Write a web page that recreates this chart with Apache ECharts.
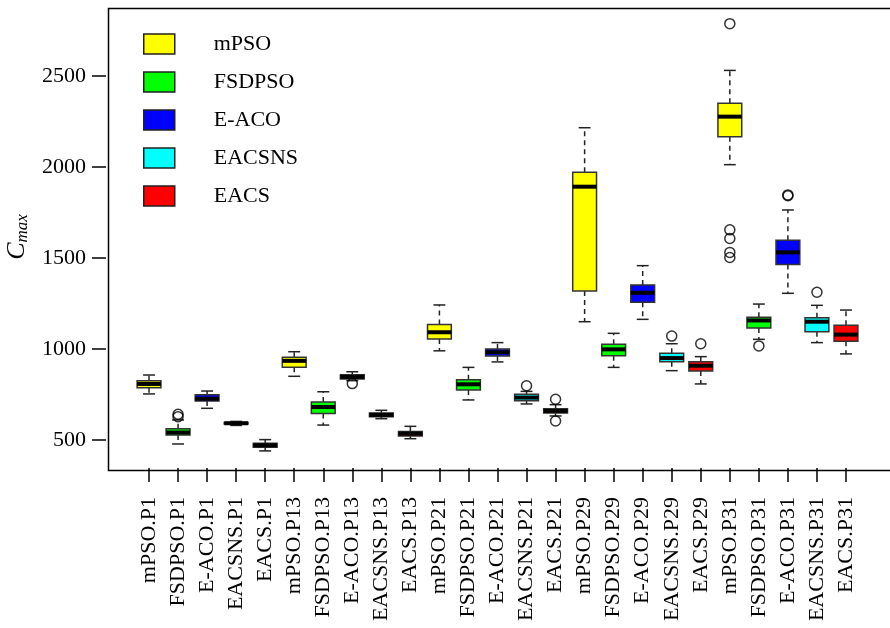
<!DOCTYPE html>
<html>
<head>
<meta charset="utf-8">
<title>Cmax boxplot</title>
<script src="https://cdn.jsdelivr.net/npm/echarts@6/dist/echarts.min.js"></script>
<style>
    html, body { margin: 0; padding: 0; background: #fff; }
    #cmax_chart { width: 890px; height: 628px; }
</style>
</head>
<body>
<div id="cmax_chart"></div>
<script>
'use strict';

var problems = ['P1', 'P13', 'P21', 'P29', 'P31'];
var algorithms = ['mPSO', 'FSDPSO', 'E-ACO', 'EACSNS', 'EACS'];
var algColors = ['#ffff00', '#00ff00', '#0000ff', '#00ffff', '#ff0000'];
var yTicks = [500, 1000, 1500, 2000, 2500];

// [min, Q1, median, Q3, max] for P1, P13, P21, P29, P31
var mPSO = [[753, 787, 808, 826, 857], [850, 900, 935, 955, 985], [990, 1055, 1092, 1135, 1242], [1150, 1319, 1892, 1971, 2216], [2013, 2167, 2277, 2350, 2531]];
var FSDPSO = [[478, 527, 541, 562, 610], [582, 645, 681, 709, 765], [720, 775, 806, 831, 899], [899, 963, 998, 1026, 1086], [1053, 1115, 1157, 1174, 1247]];
var EACO = [[674, 714, 727, 749, 769], [826, 835, 847, 858, 875], [929, 962, 982, 1000, 1035], [1163, 1257, 1309, 1352, 1458], [1306, 1465, 1531, 1597, 1764]];
var EACSNS = [[580, 588, 592, 596, 602], [617, 627, 638, 648, 663], [698, 716, 733, 751, 767], [881, 930, 950, 976, 1029], [1035, 1095, 1150, 1172, 1240]];
var EACS = [[440, 460, 471, 482, 502], [507, 522, 535, 546, 575], [632, 648, 660, 672, 694], [808, 879, 908, 930, 958], [973, 1042, 1079, 1130, 1214]];
var boxStats = [mPSO, FSDPSO, EACO, EACSNS, EACS];

// [category, value]
var outliers = [
    ['FSDPSO.P1', 641], ['FSDPSO.P1', 628],
    ['E-ACO.P13', 810],
    ['EACSNS.P21', 798],
    ['EACS.P21', 724], ['EACS.P21', 604],
    ['EACSNS.P29', 1071],
    ['EACS.P29', 1029],
    ['mPSO.P31', 2788], ['mPSO.P31', 1655], ['mPSO.P31', 1607], ['mPSO.P31', 1531], ['mPSO.P31', 1503],
    ['FSDPSO.P31', 1017],
    ['E-ACO.P31', 1842], ['E-ACO.P31', 1847],
    ['EACSNS.P31', 1312]
];

var categories = [];
problems.forEach(function (p) {
    algorithms.forEach(function (a) {
        categories.push(a + '.' + p);
    });
});

var FONT = '"Liberation Serif", "DejaVu Serif", serif';

function renderBox(params, api) {
    var x = api.value(0);
    var lo = api.coord([x, api.value(1)]);
    var q1 = api.coord([x, api.value(2)]);
    var md = api.coord([x, api.value(3)]);
    var q3 = api.coord([x, api.value(4)]);
    var hi = api.coord([x, api.value(5)]);
    var bw = api.size([1, 0])[0] * 0.82;
    var cw = bw / 2;
    var cx = md[0];
    var dash = { stroke: '#222', lineWidth: 1.5, lineDash: [5, 4] };
    var solid = { stroke: '#222', lineWidth: 1.5 };
    return {
        type: 'group',
        children: [
            { type: 'line', shape: { x1: cx, y1: q3[1], x2: cx, y2: hi[1] }, style: dash },
            { type: 'line', shape: { x1: cx, y1: q1[1], x2: cx, y2: lo[1] }, style: dash },
            { type: 'line', shape: { x1: cx - cw / 2, y1: hi[1], x2: cx + cw / 2, y2: hi[1] }, style: solid },
            { type: 'line', shape: { x1: cx - cw / 2, y1: lo[1], x2: cx + cw / 2, y2: lo[1] }, style: solid },
            {
                type: 'rect',
                shape: { x: cx - bw / 2, y: q3[1], width: bw, height: q1[1] - q3[1] },
                style: { fill: api.visual('color'), stroke: '#333', lineWidth: 1.5 }
            },
            { type: 'line', shape: { x1: cx - bw / 2, y1: md[1], x2: cx + bw / 2, y2: md[1] }, style: { stroke: '#000', lineWidth: 4 } }
        ]
    };
}

var series = algorithms.map(function (name, j) {
    var data = boxStats[j].map(function (s, i) {
        return [i * algorithms.length + j].concat(s);
    });
    return {
        name: name,
        type: 'custom',
        renderItem: renderBox,
        itemStyle: { color: algColors[j] },
        encode: { x: 0, y: [1, 2, 3, 4, 5] },
        data: data,
        z: 2
    };
});

series.push({
    name: 'outliers',
    type: 'scatter',
    symbol: 'circle',
    symbolSize: 10,
    itemStyle: { color: 'rgba(0,0,0,0)', borderColor: '#000', borderWidth: 1.5 },
    data: outliers.map(function (o) { return [categories.indexOf(o[0]), o[1]]; }),
    z: 3
});

var myChart = echarts.init(document.getElementById('cmax_chart'));
var option = {
    animation: false,
    backgroundColor: '#fff',
    textStyle: { fontFamily: FONT },
    grid: {
        left: 134.5,
        right: 29.5,
        top: 6,
        bottom: 160,
        containLabel: false,
        outerBoundsMode: 'none'
    },
    legend: {
        data: algorithms,
        orient: 'vertical',
        left: 143,
        top: 33,
        padding: 0,
        icon: 'rect',
        itemWidth: 31,
        itemHeight: 20,
        itemGap: 16,
        itemStyle: { borderColor: '#222', borderWidth: 1.5 },
        textStyle: { fontFamily: FONT, fontSize: 22, color: '#000', lineHeight: 20, padding: [0, 0, 0, 34] }
    },
    xAxis: {
        type: 'category',
        data: categories,
        boundaryGap: true,
        axisLine: { show: false },
        axisTick: { show: true, alignWithLabel: true, length: 14, lineStyle: { color: '#000', width: 1.5 } },
        axisLabel: { interval: 0, rotate: 90, margin: 29, fontFamily: FONT, fontSize: 22, color: '#000' },
        splitLine: { show: false }
    },
    yAxis: {
        type: 'value',
        min: 346,
        max: 2885,
        offset: 28.5,
        name: '{c|C}{s|max}',
        nameLocation: 'middle',
        nameRotate: 90,
        nameGap: 74,
        nameTextStyle: {
            rich: {
                c: { fontFamily: FONT, fontStyle: 'italic', fontSize: 26, color: '#000' },
                s: { fontFamily: FONT, fontStyle: 'italic', fontSize: 17, color: '#000', padding: [10, 0, 0, 0] }
            }
        },
        axisLine: { show: false },
        axisTick: { show: true, length: 14, customValues: yTicks, lineStyle: { color: '#000', width: 1.5 } },
        axisLabel: {
            customValues: yTicks,
            margin: 20,
            fontFamily: FONT,
            fontSize: 22,
            color: '#000',
            formatter: function (v) { return String(v); }
        },
        splitLine: { show: false }
    },
    graphic: [{
        type: 'rect',
        left: 106,
        top: 6,
        shape: { width: 800, height: 462 },
        style: { fill: 'none', stroke: '#000', lineWidth: 1.5 },
        z: 10,
        silent: true
    }],
    series: series
};
myChart.setOption(option);
</script>
</body>
</html>
